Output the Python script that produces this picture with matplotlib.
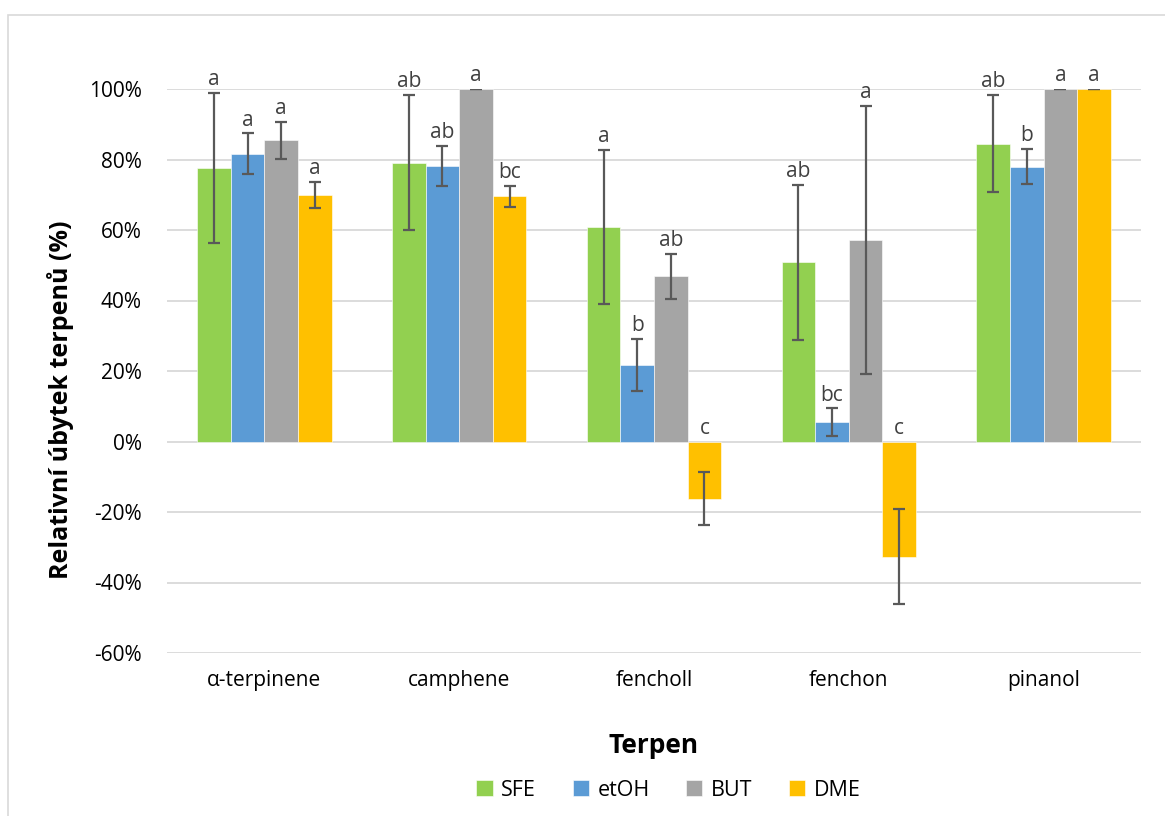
import matplotlib.pyplot as plt
import numpy as np
from matplotlib.patches import Rectangle
from matplotlib.ticker import PercentFormatter

plt.rcParams['font.family'] = ['Open Sans', 'DejaVu Sans']
plt.rcParams['axes.unicode_minus'] = False

terpenes = ['α-terpinene', 'camphene', 'fencholl', 'fenchon', 'pinanol']
methods = ['SFE', 'etOH', 'BUT', 'DME']
colors = ['#92D050', '#5B9BD5', '#A5A5A5', '#FFC000']

# relative decrease (%) and error (%)
sfe = [77.6, 79.1, 60.9, 50.8, 84.5]
sfe_err = [21.2, 19.2, 21.9, 22.0, 13.8]
etoh = [81.6, 78.2, 21.8, 5.5, 78.0]
etoh_err = [5.8, 5.6, 7.4, 3.9, 5.0]
but = [85.4, 100.0, 46.9, 57.2, 100.0]
but_err = [5.3, 0.0, 6.4, 38.0, 0.0]
dme = [70.0, 69.6, -16.2, -32.7, 100.0]
dme_err = [3.7, 3.0, 7.6, 13.5, 0.0]

letters_sfe = ['a', 'ab', 'a', 'ab', 'ab']
letters_etoh = ['a', 'ab', 'b', 'bc', 'b']
letters_but = ['a', 'a', 'ab', 'a', 'a']
letters_dme = ['a', 'bc', 'c', 'c', 'a']

values = [sfe, etoh, but, dme]
errors = [sfe_err, etoh_err, but_err, dme_err]
letters = [letters_sfe, letters_etoh, letters_but, letters_dme]

fig = plt.figure(figsize=(11.65, 8.16), dpi=100)
ax = fig.add_axes([167 / 1165, 1 - 653 / 816, (1141 - 167) / 1165, (653 - 89) / 816])

# chart area border
fig.patches.append(Rectangle((8 / 1165, -0.1), 1.2, 1 - 15 / 816 + 0.1,
                             transform=fig.transFigure, fill=False,
                             edgecolor='#d9d9d9', linewidth=1.2))

x = np.arange(len(terpenes))
w = 0.1725
for i, m in enumerate(methods):
    pos = x + (i - 1.5) * w
    ax.bar(pos, values[i], w, color=colors[i], label=m, zorder=2,
           edgecolor='white', linewidth=0.4)
    ax.errorbar(pos, values[i], yerr=errors[i], fmt='none', ecolor='#595959',
                elinewidth=1.6, capsize=4.5, capthick=1.6, zorder=3)
    for p, v, e, t in zip(pos, values[i], errors[i], letters[i]):
        top = max(v + e, 0)
        ax.annotate(t, (p, top), xytext=(0, 2), textcoords='offset points',
                    ha='center', va='bottom', fontsize=15, color='#404040',
                    annotation_clip=False)

ax.set_xlim(-0.5, len(terpenes) - 0.5)
ax.set_ylim(-60, 100)
ax.set_yticks(np.arange(-60, 101, 20))
ax.yaxis.set_major_formatter(PercentFormatter(decimals=0))
ax.set_xticks(x)
ax.set_xticklabels(terpenes)
ax.tick_params(axis='both', length=0, labelsize=15, colors='#000000')
ax.tick_params(axis='y', pad=18)
ax.tick_params(axis='x', pad=12)
ax.grid(axis='y', color='#d9d9d9', linewidth=1.3, zorder=0)
ax.set_axisbelow(True)
for s in ax.spines.values():
    s.set_visible(False)

ax.set_ylabel('Relativní úbytek terpenů (%)', fontsize=18, fontweight='bold')
ax.yaxis.set_label_coords(-(167 - 74) / 974, (653 - 400) / 564)
ax.set_xlabel('Terpen', fontsize=19, fontweight='bold', labelpad=30)

ax.legend(loc='upper center', bbox_to_anchor=(0.515, -0.19), ncol=4, frameon=False,
          fontsize=15.5, handlelength=0.75, handleheight=0.75, handletextpad=0.4,
          columnspacing=1.7)

fig.savefig('out.png', dpi=100)
